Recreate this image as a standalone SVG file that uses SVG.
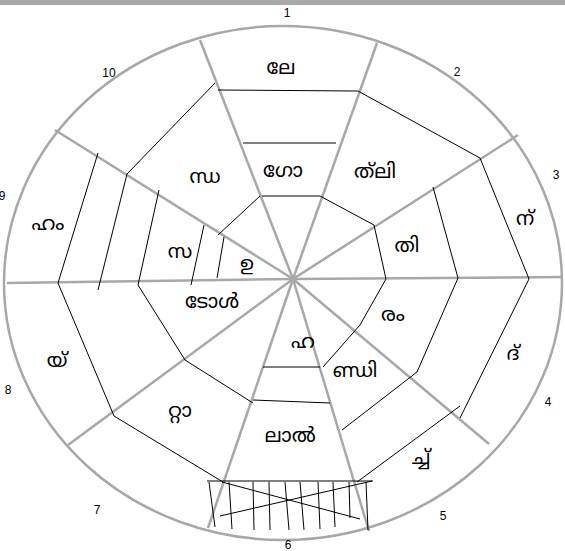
<svg xmlns="http://www.w3.org/2000/svg" width="565" height="551" viewBox="0 0 565 551">
<style>
.rim{fill:none;stroke:#a8a8a8;stroke-width:2.5}
.spoke{stroke:#a8a8a8;stroke-width:2.5;fill:none}
.web{stroke:#000;stroke-width:1;fill:none}
.num{font-family:"Liberation Sans","DejaVu Sans",sans-serif;font-size:12px;fill:#000;text-anchor:middle}
.ml{font-family:"Noto Sans Malayalam","Noto Serif Malayalam","Noto Sans",sans-serif;font-size:20px;fill:#000;text-anchor:middle;dominant-baseline:central}
</style>
<rect x="0" y="0" width="565" height="5" fill="#a8a8a8"/>
<g id="wheel">
<ellipse class="rim" cx="283" cy="283" rx="279" ry="257"/>
</g>
<g id="spokes">
<line class="spoke" x1="293" y1="279" x2="200" y2="40"/>
<line class="spoke" x1="293" y1="279" x2="377" y2="43"/>
<line class="spoke" x1="293" y1="279" x2="518" y2="135"/>
<line class="spoke" x1="293" y1="279" x2="562" y2="277"/>
<line class="spoke" x1="293" y1="279" x2="489" y2="444"/>
<line class="spoke" x1="293" y1="279" x2="369" y2="531"/>
<line class="spoke" x1="293" y1="279" x2="208" y2="528"/>
<line class="spoke" x1="293" y1="279" x2="68" y2="445"/>
<line class="spoke" x1="293" y1="279" x2="7" y2="283"/>
<line class="spoke" x1="293" y1="279" x2="55" y2="130"/>
</g>
<g id="connectors">
<polyline class="web" points="98,153 58,283 114,416 223,482"/>
<line class="web" x1="207" y1="481" x2="373" y2="481"/>
<polyline class="web" points="357,482 460,406"/>
<polyline class="web" points="460,418 529,279 480,158 358,91"/>
<line class="web" x1="218" y1="90" x2="358" y2="91"/>
<polyline class="web" points="215,83 127,174 98,290"/>
<line class="web" x1="243" y1="143" x2="336" y2="143"/>
<line class="web" x1="262" y1="196" x2="320" y2="196"/>
<polyline class="web" points="320,196 374,225 386,279 360,325 323,367"/>
<line class="web" x1="263" y1="367" x2="320" y2="367"/>
<polyline class="web" points="433,187 458,278 417,372 342,430"/>
<line class="web" x1="253" y1="400" x2="330" y2="403"/>
<polyline class="web" points="159,190 138,285 185,360 253,403"/>
<line class="web" x1="260" y1="196" x2="218" y2="235"/>
<line class="web" x1="204" y1="225" x2="191" y2="285"/>
<line class="web" x1="224" y1="237" x2="217" y2="278"/>
<line class="web" x1="209" y1="482" x2="215" y2="527"/>
<line class="web" x1="229" y1="482" x2="232" y2="529"/>
<line class="web" x1="253" y1="482" x2="254" y2="530"/>
<line class="web" x1="269" y1="482" x2="270" y2="530"/>
<line class="web" x1="285" y1="482" x2="289" y2="530"/>
<line class="web" x1="300" y1="482" x2="304" y2="530"/>
<line class="web" x1="318" y1="482" x2="320" y2="529"/>
<line class="web" x1="333" y1="482" x2="335" y2="527"/>
<line class="web" x1="349" y1="482" x2="350" y2="518"/>
<line class="web" x1="366" y1="482" x2="368" y2="530"/>
<line class="web" x1="222" y1="482" x2="360" y2="519"/>
<line class="web" x1="220" y1="516" x2="372" y2="481"/>
</g>
<g id="numbers">
<text class="num" x="287" y="17">1</text>
<text class="num" x="457" y="76">2</text>
<text class="num" x="556" y="179">3</text>
<text class="num" x="548" y="406">4</text>
<text class="num" x="443" y="520">5</text>
<text class="num" x="288" y="549">6</text>
<text class="num" x="97" y="514">7</text>
<text class="num" x="8" y="394">8</text>
<text class="num" x="2" y="200">9</text>
<text class="num" x="109" y="77">10</text>
</g>
<g id="labels">
<text class="ml" x="281" y="69">ലേ</text>
<text class="ml" x="283" y="172">ഗോ</text>
<text class="ml" x="375" y="173">ത്‌ലി</text>
<text class="ml" x="525" y="220">ന്</text>
<text class="ml" x="407" y="247">തി</text>
<text class="ml" x="393" y="316">രം</text>
<text class="ml" x="513" y="355">ദ്</text>
<text class="ml" x="355" y="372">ണ്ഡി</text>
<text class="ml" x="421" y="459">ച്ച്</text>
<text class="ml" x="303" y="343">ഹ</text>
<text class="ml" x="290" y="437">ലാൽ</text>
<text class="ml" x="180" y="412">റ്റാ</text>
<text class="ml" x="57" y="362">യ്</text>
<text class="ml" x="212" y="303">ടോൾ</text>
<text class="ml" x="247" y="265">ഉ</text>
<text class="ml" x="180" y="253">സ</text>
<text class="ml" x="48" y="225">ഹം</text>
<text class="ml" x="205" y="178">ന്ധ</text>
</g>
</svg>
